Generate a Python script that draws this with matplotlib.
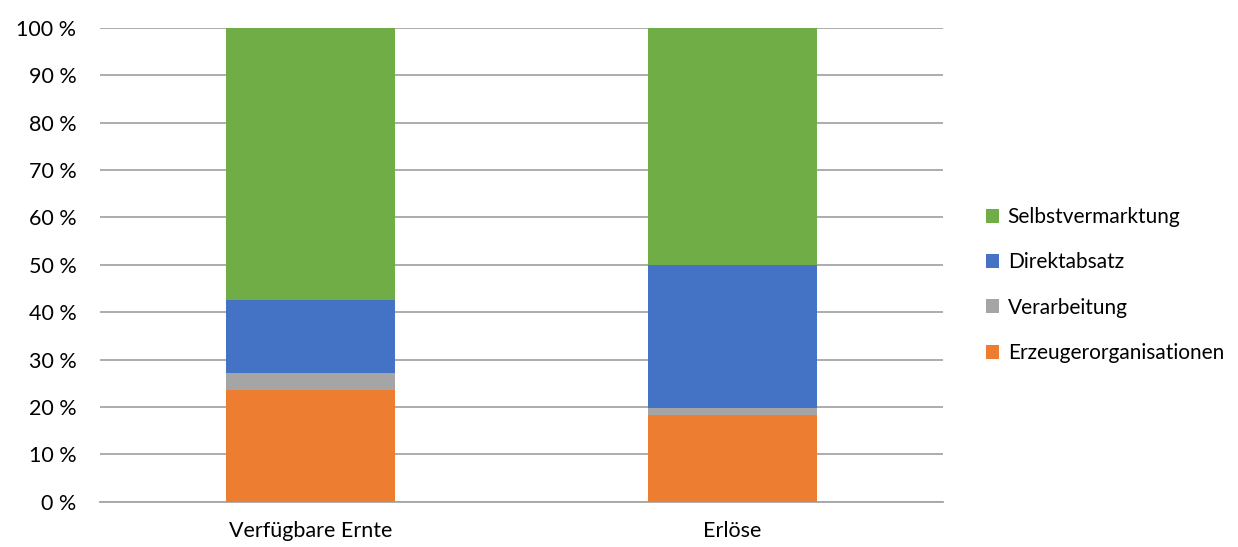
import matplotlib
matplotlib.use("Agg")
import matplotlib.pyplot as plt
import numpy as np

categories = ["Verfügbare Ernte", "Erlöse"]
series_names = ["Erzeugerorganisationen", "Verarbeitung", "Direktabsatz", "Selbstvermarktung"]
erzeuger = [23.5, 18.2]
verarbeitung = [3.7, 1.6]
direktabsatz = [15.3, 30.2]
selbst = [57.5, 50.0]
yticks = [0, 10, 20, 30, 40, 50, 60, 70, 80, 90, 100]
ytick_labels = [f"{v} %" for v in yticks]

colors = ["#ED7D31", "#A5A5A5", "#4472C4", "#70AD47"]

plt.rcParams['font.family'] = ['Lato', 'DejaVu Sans']

fig = plt.figure(figsize=(12.38, 5.47), dpi=100)
ax = fig.add_axes([100/1238, 1 - 501.6/547, 843/1238, (501.6-28)/547])

x = np.arange(len(categories))
bottom = np.zeros(len(categories))
handles = []
for name, vals, c in zip(series_names, [erzeuger, verarbeitung, direktabsatz, selbst], colors):
    b = ax.bar(x, vals, bottom=bottom, width=0.40, color=c, label=name, zorder=3)
    handles.append(b)
    bottom += np.array(vals)

ax.set_xlim(-0.5, 1.5)
ax.set_ylim(0, 100)
ax.set_yticks(yticks)
ax.set_yticklabels(ytick_labels)
ax.set_xticks(x)
ax.set_xticklabels(categories)
ax.yaxis.grid(True, color="#a6a6a6", linewidth=1.3, zorder=0)
ax.set_axisbelow(True)
for s in ["top", "right", "left"]:
    ax.spines[s].set_visible(False)
ax.spines["bottom"].set_color("#a6a6a6")
ax.spines["bottom"].set_linewidth(1.3)
ax.tick_params(axis="both", length=0, labelsize=15.5, colors="#000000")
ax.tick_params(axis="y", pad=17)
ax.tick_params(axis="x", pad=14)
for lbl in ax.get_yticklabels():
    lbl.set_horizontalalignment("right")

leg = fig.legend(handles[::-1], series_names[::-1], loc="center left",
                 bbox_to_anchor=(967/1238, 1 - 285/547), frameon=False,
                 fontsize=15, handlelength=0.65, handleheight=0.65,
                 handletextpad=0.4, labelspacing=1.22)

fig.savefig("out.png", dpi=100)
